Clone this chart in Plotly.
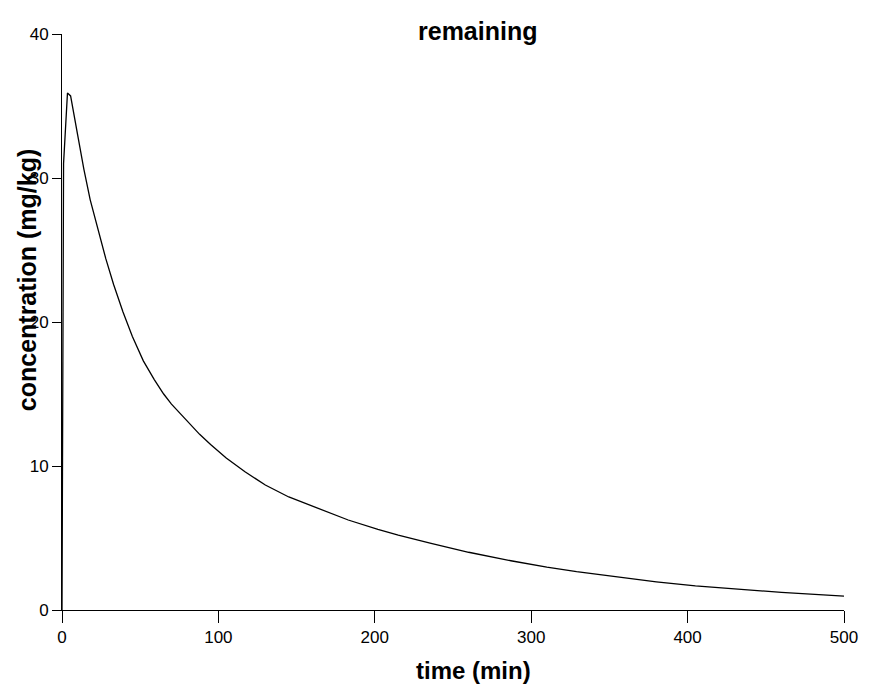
import plotly.graph_objects as go

# Concentration remaining over time
time_min = [0, 1, 3.5, 5.5, 10, 14, 18, 24, 28, 33, 39, 45, 52, 59, 65, 70,
            80, 88, 95, 105, 117, 130, 145, 160, 183, 202, 215, 236, 260, 287,
            310, 329, 342, 355, 380, 405, 430, 460, 500]
conc_mgkg = [0, 31.0, 35.9, 35.7, 33.0, 30.6, 28.5, 26.0, 24.4, 22.6, 20.7,
             19.0, 17.3, 16.0, 15.0, 14.3, 13.1, 12.2, 11.5, 10.55, 9.6, 8.68,
             7.85, 7.22, 6.25, 5.6, 5.2, 4.63, 4.01, 3.42, 2.97, 2.66, 2.48,
             2.31, 1.96, 1.67, 1.45, 1.22, 0.97]

x_ticks = [0, 100, 200, 300, 400, 500]
y_ticks = [0, 10, 20, 30, 40]

FONT = "Liberation Sans, Arial, sans-serif"

fig = go.Figure()
fig.add_trace(go.Scatter(
    x=time_min, y=conc_mgkg, mode="lines",
    line=dict(color="black", width=1.3), showlegend=False,
))

L, R, T, B = 62, 21, 34, 78
W, H = 870, 688
pw, ph = W - L - R, H - T - B

fig.update_layout(
    width=W, height=H,
    margin=dict(l=L, r=R, t=T, b=B),
    paper_bgcolor="white", plot_bgcolor="white",
    font=dict(family=FONT, color="black"),
    xaxis=dict(
        range=[0, 500], tickvals=x_ticks, ticks="outside", ticklen=12,
        tickwidth=1, tickcolor="black", showline=True, linecolor="black",
        linewidth=1, showgrid=False, zeroline=False,
        tickfont=dict(size=17, family=FONT),
    ),
    yaxis=dict(
        range=[0, 40], tickvals=y_ticks, ticks="outside", ticklen=9,
        tickwidth=1, tickcolor="black", showline=True, linecolor="black",
        linewidth=1, showgrid=False, zeroline=False,
        tickfont=dict(size=17, family=FONT),
    ),
    annotations=[
        dict(text="<b>remaining</b>", xref="paper", yref="paper",
             x=(480 - L) / pw, y=(H - B - 31) / ph, xanchor="center",
             yanchor="middle", showarrow=False,
             font=dict(size=25, family=FONT)),
        dict(text="<b>time (min)</b>", xref="paper", yref="paper",
             x=(476 - L) / pw, y=-(670 - (H - B)) / ph, xanchor="center",
             yanchor="middle", showarrow=False,
             font=dict(size=24, family=FONT)),
        dict(text="<b>concentration (mg/kg)</b>", xref="paper", yref="paper",
             x=-(L - 27) / pw, y=(H - B - 280) / ph, xanchor="center",
             yanchor="middle", showarrow=False, textangle=-90,
             font=dict(size=25, family=FONT)),
    ],
)

fig.write_html("out.html")
